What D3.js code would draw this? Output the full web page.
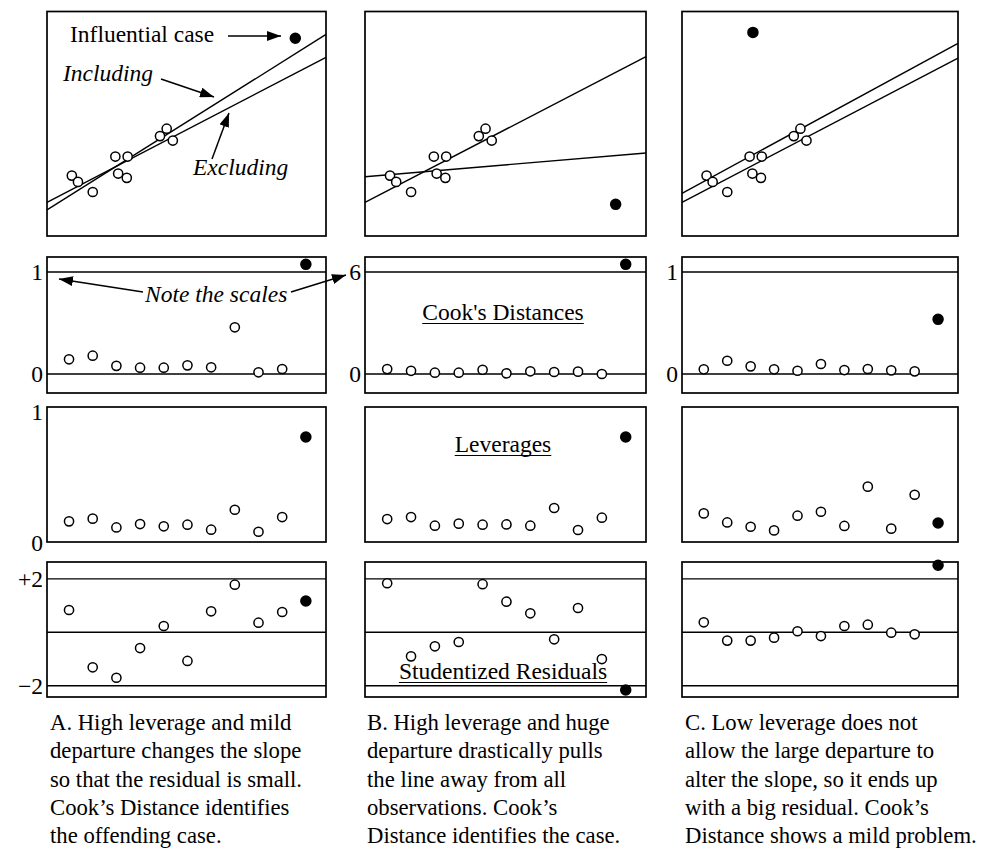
<!DOCTYPE html>
<html><head><meta charset="utf-8">
<script src="https://cdn.jsdelivr.net/npm/d3@7"></script>
<style>
body{margin:0;background:#fff;}
svg{display:block;}
text{font-family:"Liberation Serif","Times New Roman",serif;fill:#000;}
</style></head><body>
<svg id="chart" width="982" height="851"></svg>
<script>
// ---------------- DATA ----------------
const caseIndex = [1,2,3,4,5,6,7,8,9,10,11];
// top scatter: ten ordinary cases (same in all three panels)
const scatterX = [0.89, 1.11, 1.64, 2.45, 2.89, 2.55, 2.86, 4.05, 4.29, 4.51];
const scatterY = [2.69, 2.41, 1.96, 3.54, 3.54, 2.78, 2.59, 4.45, 4.78, 4.25];
// the influential case per panel (A, B, C)
const influentialX = [8.90, 8.92, 2.57];
const influentialY = [8.81, 1.41, 9.07];
// fitted lines: y at x = 0 and at x = 10
const fitIncludingStart = [1.16, 2.64, 1.90];
const fitIncludingEnd   = [8.98, 3.70, 8.58];
const fitExcludingStart = [1.50, 1.50, 1.50];
const fitExcludingEnd   = [7.96, 7.99, 7.92];

const cookA = [0.144, 0.18, 0.08, 0.062, 0.062, 0.085, 0.066, 0.458, 0.017, 0.049, 1.075];
const cookB = [0.29, 0.19, 0.08, 0.08, 0.25, 0.04, 0.16, 0.12, 0.14, 0.00, 6.45];
const cookC = [0.046, 0.13, 0.075, 0.046, 0.032, 0.098, 0.039, 0.049, 0.036, 0.026, 0.536];
const cookRefTop = [1, 6, 1];
const cookTickLabels = [["0","1"],["0","6"],["0","1"]];

const levA = [0.153, 0.173, 0.108, 0.133, 0.116, 0.128, 0.091, 0.239, 0.076, 0.185, 0.778];
const levB = [0.17, 0.185, 0.121, 0.136, 0.128, 0.13, 0.121, 0.252, 0.089, 0.18, 0.778];
const levC = [0.212, 0.145, 0.113, 0.086, 0.195, 0.224, 0.119, 0.41, 0.099, 0.35, 0.141];
const levTickLabels = ["0","1"];

const resA = [0.835, -1.31, -1.70, -0.59, 0.236, -1.07, 0.786, 1.78, 0.36, 0.76, 1.17];
const resB = [1.835, -0.90, -0.524, -0.363, 1.80, 1.146, 0.71, -0.262, 0.91, -1.00, -2.16];
const resC = [0.375, -0.31, -0.31, -0.20, 0.04, -0.14, 0.236, 0.285, -0.015, -0.075, 2.51];
const residualRefs = [2, 0, -2];
const residualTickLabels = ["+2", "\u22122"];

const captions = [
  ["A. High leverage and mild", "departure changes the slope", "so that the residual is small.", "Cook\u2019s Distance identifies", "the offending case."],
  ["B. High leverage and huge", "departure drastically pulls", "the line away from all", "observations. Cook\u2019s", "Distance identifies the case."],
  ["C. Low leverage does not", "allow the large departure to", "alter the slope, so it ends up", "with a big residual. Cook\u2019s", "Distance shows a mild problem."]
];
const panelTitles = ["Cook's Distances", "Leverages", "Studentized Residuals"];

const cookData = [cookA, cookB, cookC];
const levData = [levA, levB, levC];
const resData = [resA, resB, resC];

// ---------------- LAYOUT ----------------
const cols = [{l:47, r:326}, {l:365, r:646}, {l:682, r:958}];
const rows = {scatter:[11.5, 236], cook:[257, 393], lev:[407, 542], res:[562, 697]};
const FS = 23.5;
const CAP_FS = 22.7;
const svg = d3.select("#chart");

const defs = svg.append("defs");
defs.append("marker").attr("id","arr").attr("viewBox","0 0 14 10")
  .attr("refX",14).attr("refY",5).attr("markerWidth",14).attr("markerHeight",10)
  .attr("markerUnits","userSpaceOnUse").attr("orient","auto")
  .append("path").attr("d","M0,0 L14,5 L0,10 Z").attr("fill","#000");

function frame(g, c, row){
  g.append("rect").attr("x",c.l).attr("y",row[0]).attr("width",c.r-c.l).attr("height",row[1]-row[0])
    .attr("fill","none").attr("stroke","#000").attr("stroke-width",1.7);
}
function dots(g, xs, ys, x, y, filledIdx){
  g.selectAll(null).data(xs.map((d,i)=>({x:d,y:ys[i],i}))).join("circle")
    .attr("cx",d=>x(d.x)).attr("cy",d=>y(d.y)).attr("r",d=>d.i===filledIdx?5:4.6)
    .attr("fill",d=>d.i===filledIdx?"#000":"#fff")
    .attr("stroke","#000").attr("stroke-width",1.5);
}
function hline(g, c, yy){
  g.append("line").attr("x1",c.l).attr("x2",c.r).attr("y1",yy).attr("y2",yy)
    .attr("stroke","#000").attr("stroke-width",1.4);
}
function tick(g, c, yy, label){
  g.append("text").attr("x",c.l-4).attr("y",yy).attr("dy","0.35em")
    .attr("text-anchor","end").attr("font-size",FS).text(label);
}

cols.forEach((c, k) => {
  const g = svg.append("g");
  // --- scatter panel
  const sx = d3.scaleLinear().domain([0,10]).range([c.l, c.r]);
  const sy = d3.scaleLinear().domain([0,10]).range([rows.scatter[1], rows.scatter[0]]);
  frame(g, c, rows.scatter);
  [[fitIncludingStart[k], fitIncludingEnd[k]], [fitExcludingStart[k], fitExcludingEnd[k]]].forEach(f => {
    g.append("line").attr("x1",sx(0)).attr("y1",sy(f[0])).attr("x2",sx(10)).attr("y2",sy(f[1]))
      .attr("stroke","#000").attr("stroke-width",1.4);
  });
  const allX = scatterX.concat([influentialX[k]]);
  const allY = scatterY.concat([influentialY[k]]);
  dots(g, allX, allY, sx, sy, 10);

  // index scale for diagnostic rows
  const ix = d3.scaleLinear().domain([0.07, 11.85]).range([c.l, c.r]);

  // --- Cook's distances
  const ref = cookRefTop[k];
  const cy = d3.scaleLinear().domain([-0.186*ref, 1.147*ref]).range([rows.cook[1], rows.cook[0]]);
  frame(g, c, rows.cook);
  hline(g, c, cy(0)); hline(g, c, cy(ref));
  dots(g, caseIndex, cookData[k], ix, cy, 10);
  tick(g, c, cy(0), cookTickLabels[k][0]);
  tick(g, c, cy(ref), cookTickLabels[k][1]);

  // --- Leverages
  const ly = d3.scaleLinear().domain([0,1]).range([rows.lev[1], rows.lev[0]]);
  frame(g, c, rows.lev);
  dots(g, caseIndex, levData[k], ix, ly, 10);
  if (k===0){ tick(g, c, ly(0)+1, levTickLabels[0]); tick(g, c, ly(1)+5, levTickLabels[1]); }

  // --- Studentized residuals
  const ry = d3.scaleLinear().domain([-2.42, 2.63]).range([rows.res[1], rows.res[0]]);
  frame(g, c, rows.res);
  residualRefs.forEach(v => hline(g, c, ry(v)));
  dots(g, caseIndex, resData[k], ix, ry, 10);
  if (k===0){ tick(g, c, ry(2), residualTickLabels[0]); tick(g, c, ry(-2), residualTickLabels[1]); }

  // --- caption
  const capX = [50, 367, 685][k];
  captions[k].forEach((line, i) => {
    g.append("text").attr("x",capX).attr("y",730 + i*28.3).attr("font-size",CAP_FS).text(line);
  });
});

// ---------------- ANNOTATIONS ----------------
const ann = svg.append("g");
function arrow(x1,y1,x2,y2){
  ann.append("line").attr("x1",x1).attr("y1",y1).attr("x2",x2).attr("y2",y2)
    .attr("stroke","#000").attr("stroke-width",1.5).attr("marker-end","url(#arr)");
}
ann.append("text").attr("x",70).attr("y",42).attr("font-size",FS).text("Influential case");
arrow(228,36,281,36);
ann.append("text").attr("x",63).attr("y",81).attr("font-size",FS).attr("font-style","italic").text("Including");
arrow(161,79,214,97);
ann.append("text").attr("x",193).attr("y",175).attr("font-size",FS).attr("font-style","italic").text("Excluding");
arrow(212,159,229,113);
ann.append("text").attr("x",145).attr("y",302).attr("font-size",FS).attr("font-style","italic").text("Note the scales");
arrow(143,292,59,279);
arrow(291,292,346,275);

// panel titles in column B
const titleY = [320, 452, 679];
panelTitles.forEach((t, i) => {
  const tx = ann.append("text").attr("x",503).attr("y",titleY[i]).attr("text-anchor","middle")
    .attr("font-size",FS).text(t);
  const bb = tx.node().getBBox();
  ann.append("line").attr("x1",bb.x).attr("x2",bb.x+bb.width)
    .attr("y1",titleY[i]+3.5).attr("y2",titleY[i]+3.5).attr("stroke","#000").attr("stroke-width",1.2);
});
</script>
</body></html>
